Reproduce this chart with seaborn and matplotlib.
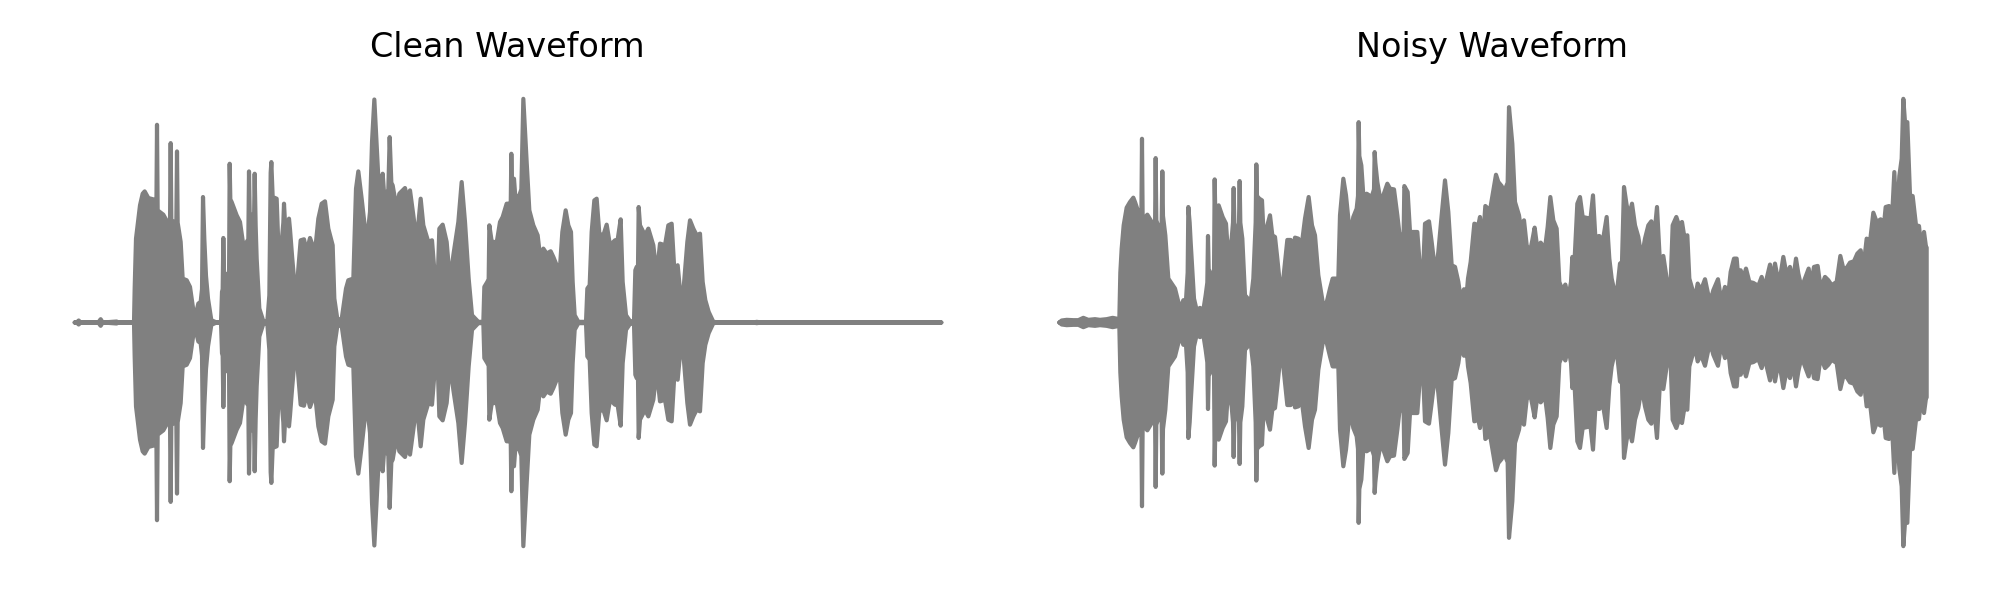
import matplotlib
matplotlib.use("Agg")
import matplotlib.pyplot as plt
import numpy as np
import seaborn as sns

sns.set_theme(style="white")
plt.rcParams["font.family"] = "DejaVu Sans"
plt.rcParams["axes.titlecolor"] = "black"

# envelope of each waveform (arbitrary time / amplitude units)
clean_t = [74, 80, 86, 92, 145, 152, 158, 200, 205, 252,
           254, 258, 264, 270, 278, 284, 295, 310, 319, 321,
           323, 340, 352, 360, 362, 364, 379, 381, 383, 392,
           398, 410, 420, 430, 438, 445, 452, 456, 459, 463,
           468, 474, 484, 500, 513, 516, 518, 520, 522, 526,
           532, 537, 539, 541, 545, 560, 570, 580, 590, 595,
           597, 599, 604, 612, 614, 617, 620, 628, 640, 652,
           658, 662, 664, 668, 680, 688, 695, 700, 702, 706,
           715, 717, 720, 726, 738, 745, 752, 762, 770, 780,
           795, 805, 815, 825, 835, 848, 853, 862, 875, 888,
           895, 910, 918, 925, 935, 950, 960, 966, 973, 982,
           990, 996, 998, 1002, 1008, 1015, 1019, 1024, 1028, 1040,
           1048, 1065, 1072, 1080, 1090, 1100, 1112, 1120, 1135, 1146,
           1155, 1162, 1168, 1178, 1190, 1200, 1210, 1225, 1235, 1245,
           1256, 1266, 1285, 1300, 1303, 1312, 1316, 1318, 1325, 1340,
           1350, 1358, 1370, 1376, 1382, 1384, 1386, 1392, 1396, 1408,
           1414, 1420, 1430, 1438, 1450, 1463, 1472, 1480, 1490, 1502,
           1510, 1520, 1530, 1537, 1547, 1555, 1563, 1568, 1574, 1585,
           1608, 1612, 1619, 1625, 1633, 1640, 1648, 1660, 1670, 1680,
           1695, 1702, 1712, 1718, 1728, 1740, 1752, 1756, 1760, 1764,
           1766, 1770, 1785, 1795, 1810, 1820, 1830, 1845, 1855, 1865,
           1875, 1883, 1895, 1902, 1912, 1920, 1930, 1940, 1950, 1958,
           1966, 1976, 1990, 2010, 2110, 2120, 2135, 2674]
clean_amp = [0, 0, 6, 0, 0, 10, 0, 3, 0, 0,
             102, 252, 302, 352, 387, 394, 374, 370, 322, 594,
             337, 324, 302, 300, 539, 307, 300, 514, 300, 242,
             132, 127, 107, 37, 27, 57, 62, 100, 377, 250,
             140, 72, 7, 0, 0, 92, 100, 254, 150, 147,
             112, 120, 477, 370, 362, 322, 302, 232, 242, 250,
             454, 330, 322, 300, 447, 290, 192, 42, 4, 4,
             82, 450, 482, 377, 372, 147, 242, 300, 357, 282,
             290, 312, 280, 202, 62, 162, 247, 250, 212, 254,
             212, 312, 357, 364, 282, 232, 72, 10, 10, 102,
             127, 132, 402, 454, 372, 237, 332, 542, 670, 492,
             337, 350, 447, 390, 382, 400, 557, 420, 412, 342,
             387, 404, 372, 397, 322, 242, 372, 292, 242, 247,
             132, 92, 282, 294, 242, 122, 202, 302, 422, 302,
             132, 22, 2, 2, 107, 122, 130, 292, 244, 240,
             302, 317, 357, 357, 340, 507, 400, 432, 377, 382,
             400, 672, 482, 337, 292, 262, 182, 222, 207, 214,
             197, 172, 167, 272, 337, 292, 272, 122, 22, 2,
             2, 102, 112, 272, 367, 372, 267, 262, 294, 232,
             247, 242, 310, 122, 22, 4, 4, 157, 167, 170,
             347, 292, 262, 282, 232, 142, 237, 232, 292, 297,
             122, 172, 42, 117, 242, 307, 282, 262, 267, 122,
             67, 32, 2, 0, 0, 2, 0, 0]

noisy_t = [58, 65, 80, 100, 115, 130, 145, 165, 180, 200,
           218, 238, 241, 245, 251, 260, 270, 280, 285, 295,
           302, 304, 306, 308, 322, 335, 345, 347, 349, 360,
           365, 367, 369, 376, 385, 395, 405, 415, 422, 430,
           438, 443, 445, 449, 452, 462, 470, 480, 490, 497,
           502, 504, 506, 510, 518, 522, 524, 526, 536, 548,
           558, 565, 575, 579, 581, 583, 590, 597, 599, 601,
           607, 615, 625, 632, 640, 647, 649, 651, 658, 666,
           675, 682, 690, 697, 705, 712, 722, 730, 742, 752,
           757, 765, 775, 785, 795, 806, 816, 825, 835, 848,
           858, 870, 878, 895, 900, 910, 918, 930, 940, 950,
           954, 956, 958, 964, 972, 980, 995, 1002, 1004, 1006,
           1012, 1024, 1030, 1042, 1050, 1062, 1072, 1080, 1091, 1093,
           1103, 1110, 1122, 1132, 1140, 1148, 1155, 1167, 1175, 1187,
           1195, 1205, 1215, 1225, 1235, 1245, 1255, 1262, 1272, 1278,
           1284, 1292, 1303, 1315, 1320, 1328, 1336, 1350, 1368, 1375,
           1385, 1392, 1403, 1407, 1417, 1425, 1437, 1442, 1452, 1460,
           1470, 1477, 1484, 1492, 1502, 1515, 1523, 1531, 1540, 1550,
           1558, 1567, 1576, 1585, 1593, 1597, 1602, 1612, 1620, 1628,
           1642, 1650, 1659, 1666, 1678, 1688, 1700, 1708, 1715, 1726,
           1732, 1740, 1746, 1752, 1760, 1768, 1776, 1785, 1795, 1805,
           1815, 1825, 1834, 1842, 1851, 1860, 1870, 1880, 1892, 1898,
           1909, 1917, 1926, 1933, 1942, 1948, 1958, 1965, 1973, 1983,
           1995, 2004, 2012, 2020, 2034, 2044, 2055, 2064, 2072, 2082,
           2090, 2095, 2102, 2110, 2118, 2128, 2140, 2155, 2165, 2175,
           2180, 2190, 2198, 2205, 2215, 2223, 2230, 2240, 2250, 2258,
           2268, 2275, 2285, 2293, 2306, 2313, 2322, 2333, 2342, 2355,
           2365, 2375, 2390, 2401, 2410, 2420, 2430, 2442, 2452, 2462,
           2470, 2480, 2490, 2500, 2510, 2522, 2528, 2537, 2547, 2555,
           2563, 2570, 2578, 2585, 2590, 2595, 2602, 2610, 2618, 2628,
           2637, 2645, 2652, 2658, 2660]
noisy_amp = [0, 6, 8, 7, 7, 14, 8, 10, 8, 10,
             14, 10, 150, 222, 292, 345, 362, 375, 362, 332,
             272, 300, 552, 307, 324, 302, 272, 494, 307, 272,
             300, 454, 320, 262, 132, 117, 102, 62, 42, 67,
             67, 150, 347, 300, 242, 72, 37, 44, 37, 82,
             120, 260, 160, 152, 122, 140, 430, 322, 352, 317,
             297, 192, 252, 300, 404, 300, 242, 300, 425, 300,
             252, 82, 70, 62, 132, 300, 475, 380, 372, 367,
             172, 292, 322, 262, 257, 192, 92, 132, 248, 248,
             192, 255, 252, 232, 312, 377, 292, 262, 142, 62,
             52, 102, 132, 132, 322, 432, 382, 262, 317, 342,
             380, 602, 500, 472, 352, 387, 377, 400, 512, 480,
             422, 352, 382, 417, 402, 400, 322, 252, 270, 410,
             392, 272, 272, 272, 162, 122, 297, 304, 242, 142,
             212, 322, 427, 332, 172, 167, 122, 72, 100, 62,
             132, 182, 297, 292, 317, 232, 350, 337, 444, 422,
             410, 392, 420, 647, 537, 362, 322, 287, 307, 232,
             212, 247, 285, 222, 240, 222, 287, 377, 307, 282,
             122, 97, 114, 72, 122, 197, 152, 357, 377, 317,
             314, 297, 382, 257, 260, 242, 317, 192, 132, 82,
             102, 177, 182, 407, 352, 322, 357, 292, 257, 192,
             252, 292, 304, 252, 347, 177, 200, 132, 122, 292,
             317, 292, 302, 257, 262, 132, 97, 72, 117, 97,
             130, 87, 67, 97, 130, 62, 107, 77, 152, 192,
             192, 132, 157, 132, 162, 122, 119, 110, 137, 97,
             132, 174, 122, 177, 122, 152, 197, 142, 167, 117,
             192, 147, 102, 127, 162, 112, 167, 170, 102, 137,
             127, 112, 122, 200, 162, 164, 180, 184, 207, 217,
             162, 252, 242, 330, 302, 310, 252, 347, 350, 292,
             452, 292, 440, 492, 672, 602, 602, 382, 380, 292,
             290, 210, 272, 227, 225]


def draw_wave(ax, t, amp, title, xlim):
    t = np.array(t)
    amp = np.array(amp)
    # outline runs along the top of the envelope and back along the bottom
    xs = np.concatenate([t, t[::-1]])
    ys = np.concatenate([amp, -amp[::-1]])
    sns.lineplot(x=xs, y=ys, estimator=None, sort=False, color="gray",
                 linewidth=1.5, ax=ax)
    ax.fill_between(t, -amp, amp, color="gray", linewidth=0)
    ax.set_xlim(xlim)
    ax.set_ylim(-740, 740)
    ax.set_title(title, pad=7)
    ax.axis("off")


fig, axes = plt.subplots(1, 2, figsize=(10, 3), dpi=200)
fig.subplots_adjust(left=0.015, right=0.985, top=0.873, bottom=0.052, wspace=0.0314)

draw_wave(axes[0], clean_t, clean_amp, "Clean Waveform", (-60, 2805))
draw_wave(axes[1], noisy_t, noisy_amp, "Noisy Waveform", (-75, 2790))

plt.savefig("out.png")
